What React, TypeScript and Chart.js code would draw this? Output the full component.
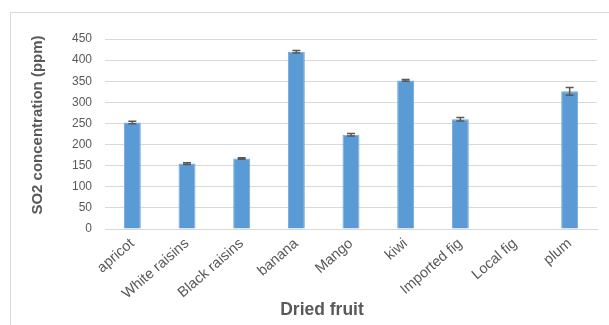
import React, { useEffect, useRef } from "react";
import { Chart, registerables } from "chart.js";

Chart.register(...registerables);

const categories = ["apricot", "White raisins", "Black raisins", "banana", "Mango", "kiwi", "Imported fig", "Local fig", "plum"];
const so2Values: (number | null)[] = [252, 155, 167, 420, 223, 352, 260, null, 326];
const so2Errors: (number | null)[] = [3, 2, 2, 3, 3, 2, 4, null, 9];
const yTicks = [0, 50, 100, 150, 200, 250, 300, 350, 400, 450];

const TEXT = "#595959";
const FONT = "'Liberation Sans', Arial, sans-serif";

const decorPlugin = {
  id: "decor",
  beforeDraw(chart: any) {
    const ctx = chart.ctx;
    ctx.save();
    ctx.strokeStyle = "#D9D9D9";
    ctx.lineWidth = 1;
    ctx.beginPath();
    ctx.moveTo(10.5, 325);
    ctx.lineTo(10.5, 12.5);
    ctx.lineTo(609, 12.5);
    ctx.stroke();
    ctx.restore();
  },
  afterDatasetsDraw(chart: any) {
    const ctx = chart.ctx;
    const xs = chart.scales.x;
    const ys = chart.scales.y;
    ctx.save();
    ctx.strokeStyle = "#595959";
    ctx.lineWidth = 1.5;
    so2Values.forEach((v, i) => {
      const e = so2Errors[i];
      if (v == null || e == null) return;
      const x = xs.getPixelForValue(i);
      const yt = ys.getPixelForValue(v + e);
      const yb = ys.getPixelForValue(v - e);
      ctx.beginPath();
      ctx.moveTo(x, yt);
      ctx.lineTo(x, yb);
      ctx.moveTo(x - 4, yt);
      ctx.lineTo(x + 4, yt);
      ctx.moveTo(x - 4, yb);
      ctx.lineTo(x + 4, yb);
      ctx.stroke();
    });
    ctx.restore();
  },
  afterDraw(chart: any) {
    const ctx = chart.ctx;
    ctx.save();
    ctx.fillStyle = TEXT;
    ctx.textAlign = "center";
    ctx.textBaseline = "middle";
    ctx.font = `bold 17.5px ${FONT}`;
    ctx.fillText("Dried fruit", 322, 310);
    ctx.translate(38, 125);
    ctx.rotate(-Math.PI / 2);
    ctx.font = `bold 15px ${FONT}`;
    ctx.fillText("SO2 concentration (ppm)", 0, 0);
    ctx.restore();
  },
};

export default function App() {
  const ref = useRef<HTMLCanvasElement>(null);
  useEffect(() => {
    document.body.style.margin = "0";
    const chart = new Chart(ref.current!, {
      type: "bar",
      data: {
        labels: categories,
        datasets: [
          {
            data: so2Values as any,
            backgroundColor: "#5B9BD5",
            borderColor: "#6FA8DC",
            borderWidth: 1,
            categoryPercentage: 1,
            barPercentage: 0.31,
          },
        ],
      },
      options: {
        animation: false,
        responsive: false,
        devicePixelRatio: 1,
        layout: { padding: { left: 0, right: 12, top: 39, bottom: 0 } },
        plugins: { legend: { display: false }, tooltip: { enabled: false } },
        scales: {
          x: {
            grid: { display: false, drawTicks: false },
            border: { display: true, color: "#D9D9D9" },
            ticks: {
              color: TEXT,
              font: { family: FONT, size: 14.5 },
              minRotation: 41,
              maxRotation: 41,
              padding: 6,
            },
            afterFit(scale: any) {
              scale.height = 96;
            },
          },
          y: {
            min: 0,
            max: 450,
            afterBuildTicks(scale: any) {
              scale.ticks = yTicks.map((v) => ({ value: v }));
            },
            grid: { color: "#D9D9D9", drawTicks: false },
            border: { display: false },
            ticks: {
              color: TEXT,
              font: { family: FONT, size: 12 },
              padding: 13,
            },
            afterFit(scale: any) {
              scale.width = 105;
            },
          },
        },
      },
      plugins: [decorPlugin],
    });
    return () => chart.destroy();
  }, []);
  return (
    <div style={{ position: "absolute", left: 0, top: 0, width: 609, height: 325 }}>
      <canvas ref={ref} width={609} height={325} style={{ width: 609, height: 325 }} />
    </div>
  );
}
